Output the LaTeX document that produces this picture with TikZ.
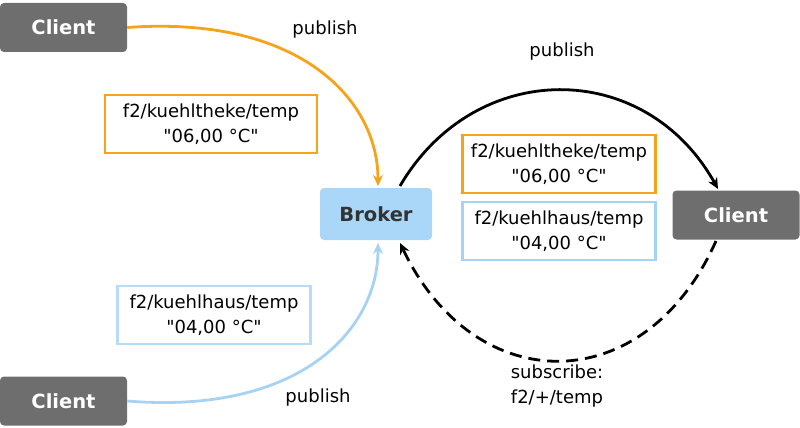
\documentclass[tikz,border=0pt]{standalone}
\usepackage{fontspec}
\setmainfont{DejaVu Sans}[Ligatures=TeXOff]
\usetikzlibrary{arrows.meta}
\definecolor{cgray}{HTML}{6E6E6E}
\definecolor{cblue}{HTML}{AAD6F7}
\definecolor{corange}{HTML}{F7A21B}
\definecolor{lblue}{HTML}{A6D2F4}
\begin{document}
\begin{tikzpicture}[x=1pt,y=-1pt,
 client/.style={fill=cgray,rounded corners=4pt,minimum width=127pt,minimum height=49pt,text=white,font=\fontsize{19.5}{22}\selectfont\bfseries},
 msg/.style={draw=#1,line width=2.8pt,fill=white,minimum width=193pt,minimum height=58pt,inner sep=2pt,align=center,font=\fontsize{18}{25}\selectfont},
 lbl/.style={font=\fontsize{18}{25}\selectfont,align=center},
 arr/.style={line width=2.8pt,-{Stealth[length=11pt,width=10pt]}}]
\useasboundingbox (0,0) rectangle (800,428);
\node[client] (c1) at (63.5,27.5) {Client};
\node[client] (c2) at (63.5,401) {Client};
\node[client] (c3) at (736,215) {Client};
\node[fill=cblue,rounded corners=4pt,minimum width=112pt,minimum height=52pt,font=\fontsize{19.5}{22}\selectfont\bfseries,text=black!80] (b) at (376,214) {Broker};
\coordinate (b1) at (378,186);
\coordinate (b2) at (378,243);
\coordinate (b3) at (400,186);
\coordinate (b4) at (400,243);
\coordinate (r1) at (718,189);
\coordinate (r2) at (716,241);
\draw[arr,corange] (c1.east) .. controls (300,15) and (378,100) .. (b1);
\draw[arr,lblue] (c2.east) .. controls (300,415) and (378,330) .. (b2);
\draw[arr,black] (b3) .. controls (475,58) and (645,58) .. (r1);
\draw[arr,black,dash pattern=on 12pt off 7pt] (r2) .. controls (645,400) and (475,400) .. (b4);
\node[msg=corange,minimum width=212pt] (m1) at (211,124) {f2/kuehltheke/temp\\"06,00 °C"};
\node[msg=corange] (m2) at (559,164) {f2/kuehltheke/temp\\"06,00 °C"};
\node[msg=lblue] (m3) at (559,231) {f2/kuehlhaus/temp\\"04,00 °C"};
\node[msg=lblue!80] (m4) at (214,315) {f2/kuehlhaus/temp\\"04,00 °C"};
\node[lbl] (p1) at (325,30) {publish};
\node[lbl] (p2) at (562,52) {publish};
\node[lbl] (p3) at (318,398) {publish};
\node[lbl] (s) at (557,386) {subscribe:\\f2/+/temp};
\end{tikzpicture}
\end{document}
